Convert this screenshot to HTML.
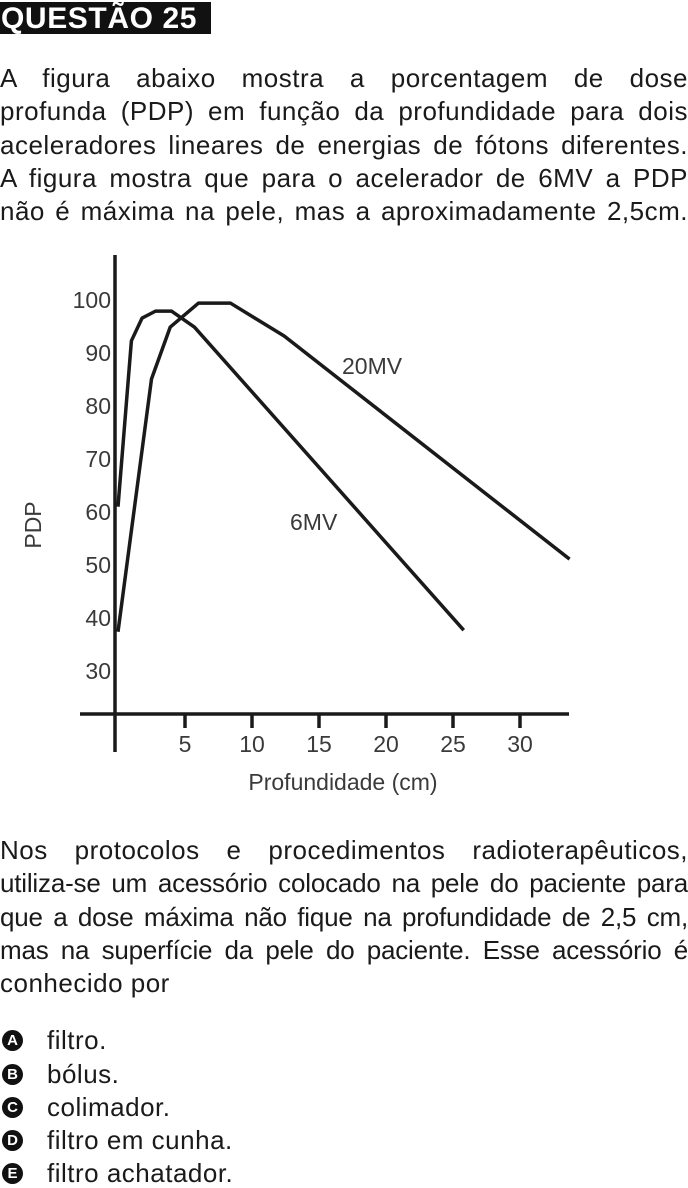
<!DOCTYPE html>
<html><head><meta charset="utf-8"><style>
body{margin:0;width:688px;height:1186px;background:#fff;position:relative;overflow:hidden;font-family:"Liberation Sans",Arial,sans-serif;color:#1a1a1a}
.hdr{position:absolute;left:0;top:2px;width:211px;height:32px;background:#111;}
.hdrt{position:absolute;left:1px;top:2px;color:#fff;font-weight:bold;font-size:30px;line-height:33px;letter-spacing:0.6px;white-space:nowrap}
.ln{position:absolute;left:0;width:688px;height:30px;line-height:30px;font-size:26px;letter-spacing:0.5px;white-space:nowrap}
.t{letter-spacing:-0.2px}
.j{text-align:justify;text-align-last:justify}
.opt{position:absolute;left:0;height:30px;line-height:30px;font-size:26px;letter-spacing:0.5px;white-space:nowrap}
.bul{position:absolute;left:2px;top:5px;width:21px;height:21px;border-radius:50%;background:#111;color:#fff;font-weight:bold;font-size:15px;line-height:21px;text-align:center;letter-spacing:0}
.ot{position:absolute;left:47px;top:0}
svg{position:absolute;left:0;top:0}
</style></head><body>
<div class="hdr"></div>
<div class="hdrt">QUESTÃO 25</div>
<div class="ln j" style="top:63px">A figura abaixo mostra a porcentagem de dose</div>
<div class="ln j" style="top:96px">profunda (PDP) em função da profundidade para dois</div>
<div class="ln j" style="top:130px">aceleradores lineares de energias de fótons diferentes.</div>
<div class="ln j" style="top:163px">A figura mostra que para o acelerador de 6MV a PDP</div>
<div class="ln j" style="top:196px">não é máxima na pele, mas a aproximadamente 2,5cm.</div>

<svg width="688" height="820" id="chart"></svg>

<div class="ln j" style="top:835px">Nos protocolos e procedimentos radioterapêuticos,</div>
<div class="ln j t" style="top:868px">utiliza-se um acessório colocado na pele do paciente para</div>
<div class="ln j t" style="top:902px">que a dose máxima não fique na profundidade de 2,5 cm,</div>
<div class="ln j t" style="top:935px">mas na superfície da pele do paciente. Esse acessório é</div>
<div class="ln" style="top:968px">conhecido por</div>

<div class="opt" style="top:1025px"><span class="bul">A</span><span class="ot">filtro.</span></div>
<div class="opt" style="top:1059px"><span class="bul">B</span><span class="ot">bólus.</span></div>
<div class="opt" style="top:1092px"><span class="bul">C</span><span class="ot">colimador.</span></div>
<div class="opt" style="top:1125px"><span class="bul">D</span><span class="ot">filtro em cunha.</span></div>
<div class="opt" style="top:1158px"><span class="bul">E</span><span class="ot">filtro achatador.</span></div>

<script>
const xTicks=[5,10,15,20,25,30];
const yTicks=[100,90,80,70,60,50,40,30];
const depth6=[0,1.0,1.8,2.8,4.0,5.7,25.8];
const pdp6=[61,92.3,96.6,97.9,97.9,94.9,37.7];
const depth20=[0,2.5,3.9,6.0,8.4,12.4,33.7];
const pdp20=[37.4,85.1,94.9,99.4,99.4,93.2,51.1];

const NS="http://www.w3.org/2000/svg";
const svg=document.getElementById('chart');
function X(d){return 118+13.4*d;}
function Y(v){return 300+(100-v)*5.3;}
function mk(tag,attrs,parent){const e=document.createElementNS(NS,tag);for(const k in attrs)e.setAttribute(k,attrs[k]);(parent||svg).appendChild(e);return e;}
const ax=mk('line',{x1:115,y1:255,x2:115,y2:752,stroke:'#1a1a1a','stroke-width':3.5});


const axx=mk('line',{x1:80,y1:714,x2:569,y2:714,stroke:'#1a1a1a','stroke-width':3.5});


xTicks.forEach(t=>{
  const tk=mk('line',{x1:X(t),y1:714,x2:X(t),y2:728,stroke:'#1a1a1a','stroke-width':3.5});
  
  
  const tl=mk('text',{x:X(t),y:752,'text-anchor':'middle','font-size':23,fill:'#3a3a3a','font-family':'Liberation Sans, sans-serif'});
  tl.textContent=t;
  
  
});
yTicks.forEach(t=>{
  const tl=mk('text',{x:111,y:Y(t)+8,'text-anchor':'end','font-size':23,fill:'#3a3a3a','font-family':'Liberation Sans, sans-serif'});
  tl.textContent=t;
  
  
});
function series(ds,vs,name){
  const p=mk('polyline',{points:ds.map((d,i)=>X(d)+','+Y(vs[i])).join(' '),fill:'none',stroke:'#1a1a1a','stroke-width':3.5,'stroke-linejoin':'round'});
  
  
}
series(depth6,pdp6,'line-6mv');
series(depth20,pdp20,'line-20mv');
const l20=mk('text',{x:342,y:374,'font-size':23,fill:'#3a3a3a','font-family':'Liberation Sans, sans-serif'});
l20.textContent='20MV';


const l6=mk('text',{x:290,y:530,'font-size':23,fill:'#3a3a3a','font-family':'Liberation Sans, sans-serif'});
l6.textContent='6MV';


const xt=mk('text',{x:343,y:790,'text-anchor':'middle','font-size':23,fill:'#3a3a3a','font-family':'Liberation Sans, sans-serif'});
xt.textContent='Profundidade (cm)';


const yt=mk('text',{x:0,y:0,'text-anchor':'middle','font-size':23,fill:'#3a3a3a','font-family':'Liberation Sans, sans-serif',transform:'translate(41,525) rotate(-90)'});
yt.textContent='PDP';


</script>
</body></html>
